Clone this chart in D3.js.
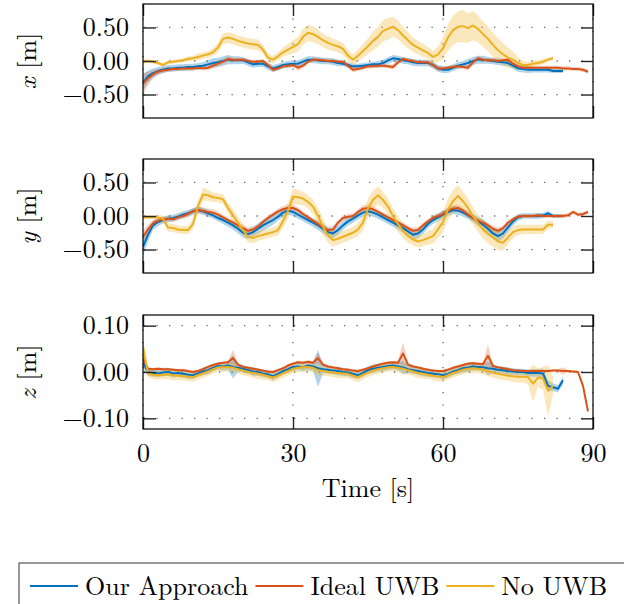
<!DOCTYPE html>
<html>
<head>
<meta charset="utf-8">
<script src="https://cdn.jsdelivr.net/npm/d3@7"></script>
<style>
  body { margin: 0; background: #fff; }
  svg { display: block; }
</style>
</head>
<body>
<div class="chart"></div>
<script>
// time axis, 1 s samples
const timeTicks = [0, 30, 60, 90]
const seriesNames = ['Our Approach', 'Ideal UWB', 'No UWB']

// X position [m]
const xOurs = [-0.32,-0.23,-0.18,-0.15,-0.13,-0.11,-0.11,-0.10,-0.10,-0.09,
 -0.09,-0.08,-0.07,-0.05,-0.03,-0.02,0.00,0.02,0.01,0.01,
 0.01,-0.02,-0.05,-0.04,-0.04,-0.08,-0.11,-0.09,-0.06,-0.05,
 -0.04,-0.04,-0.01,0.02,0.02,0.01,0.00,0.00,-0.01,-0.03,
 -0.04,-0.06,-0.08,-0.08,-0.07,-0.06,-0.05,-0.05,-0.03,0.01,
 0.04,0.03,0.01,0.00,-0.02,-0.03,-0.03,-0.03,-0.06,-0.11,
 -0.13,-0.13,-0.10,-0.07,-0.05,-0.03,0.00,0.02,0.02,0.01,
 0.00,-0.01,-0.02,-0.03,-0.07,-0.11,-0.12,-0.13,-0.13,-0.13,
 -0.13,-0.13,-0.15,-0.15,-0.15]
const xIdeal = [-0.34,-0.26,-0.20,-0.16,-0.14,-0.13,-0.12,-0.12,-0.11,-0.11,
 -0.11,-0.10,-0.11,-0.10,-0.07,-0.04,-0.01,0.03,0.02,0.02,
 0.02,0.00,-0.01,-0.01,0.00,-0.06,-0.13,-0.11,-0.08,-0.07,
 -0.06,-0.10,-0.07,-0.01,0.02,0.02,0.01,0.00,0.00,-0.01,
 -0.01,-0.07,-0.13,-0.12,-0.10,-0.08,-0.08,-0.07,-0.07,-0.08,
 -0.09,-0.02,0.03,0.01,0.00,-0.02,-0.02,-0.02,-0.06,-0.11,
 -0.11,-0.10,-0.09,-0.08,-0.09,-0.10,-0.02,0.04,0.02,0.01,
 0.01,0.00,0.01,0.02,-0.04,-0.08,-0.10,-0.10,-0.10,-0.10,
 -0.10,-0.10,-0.10,-0.10,-0.11,-0.11,-0.12,-0.12,-0.13,-0.16]
const xNoUwb = [-0.01,0.00,-0.01,-0.03,-0.06,-0.02,-0.01,0.00,0.01,0.03,
 0.04,0.06,0.08,0.10,0.13,0.20,0.33,0.35,0.33,0.30,
 0.28,0.26,0.25,0.24,0.17,0.05,0.02,0.07,0.13,0.17,
 0.21,0.25,0.36,0.42,0.40,0.36,0.31,0.27,0.24,0.22,
 0.18,0.08,0.02,0.08,0.15,0.22,0.30,0.36,0.45,0.48,
 0.51,0.46,0.38,0.31,0.24,0.20,0.16,0.12,0.06,0.10,
 0.19,0.35,0.46,0.51,0.52,0.49,0.53,0.48,0.40,0.33,
 0.24,0.16,0.10,0.05,0.02,-0.03,-0.06,-0.06,-0.04,-0.03,
 -0.01,0.02,0.04]
const xOursBand = [0.12,0.09,0.07,0.06,0.05,0.05,0.05,0.05,0.05,0.05,
 0.05,0.05,0.05,0.06,0.07,0.07,0.07,0.07,0.06,0.06,
 0.05,0.05,0.05,0.05,0.05,0.05,0.05,0.05,0.05,0.05,
 0.05,0.05,0.05,0.05,0.05,0.05,0.05,0.05,0.05,0.05,
 0.04,0.04,0.04,0.04,0.04,0.04,0.04,0.05,0.05,0.05,
 0.05,0.05,0.05,0.05,0.05,0.05,0.05,0.05,0.05,0.05,
 0.05,0.05,0.05,0.05,0.05,0.06,0.06,0.06,0.06,0.05,
 0.05,0.05,0.05,0.05,0.05,0.05,0.05,0.05,0.04,0.04,
 0.04,0.04,0.03,0.03,0.03]
const xIdealBand = [0.16,0.10,0.06,0.04,0.04,0.03,0.03,0.03,0.03,0.03,
 0.03,0.03,0.03,0.04,0.04,0.04,0.04,0.04,0.03,0.03,
 0.03,0.03,0.03,0.03,0.03,0.04,0.04,0.03,0.03,0.03,
 0.03,0.04,0.04,0.03,0.03,0.03,0.03,0.03,0.03,0.03,
 0.03,0.04,0.04,0.03,0.03,0.03,0.03,0.03,0.03,0.03,
 0.04,0.04,0.03,0.03,0.03,0.03,0.03,0.03,0.04,0.04,
 0.03,0.03,0.03,0.03,0.03,0.04,0.04,0.03,0.03,0.03,
 0.03,0.03,0.03,0.03,0.04,0.04,0.03,0.03,0.03,0.03,
 0.03,0.03,0.03,0.03,0.03,0.03,0.03,0.03,0.03,0.03]
const xNoUwbBand = [0.03,0.03,0.03,0.03,0.03,0.03,0.03,0.03,0.03,0.04,
 0.04,0.05,0.05,0.05,0.06,0.07,0.08,0.08,0.08,0.08,
 0.08,0.08,0.08,0.08,0.07,0.06,0.06,0.06,0.07,0.08,
 0.10,0.11,0.12,0.12,0.12,0.11,0.10,0.10,0.09,0.09,
 0.09,0.08,0.08,0.09,0.10,0.12,0.14,0.15,0.16,0.16,
 0.15,0.14,0.13,0.12,0.11,0.10,0.10,0.09,0.09,0.12,
 0.16,0.20,0.22,0.23,0.24,0.22,0.22,0.20,0.19,0.18,
 0.18,0.18,0.17,0.15,0.12,0.09,0.06,0.05,0.05,0.04,
 0.04,0.03,0.03]

// Y position [m]
const yOurs = [-0.46,-0.28,-0.14,-0.09,-0.06,-0.04,-0.03,-0.01,0.02,0.04,
 0.07,0.09,0.07,0.04,0.01,-0.03,-0.06,-0.10,-0.14,-0.19,
 -0.25,-0.27,-0.24,-0.19,-0.14,-0.10,-0.06,-0.01,0.05,0.08,
 0.06,0.02,-0.02,-0.06,-0.10,-0.14,-0.19,-0.24,-0.26,-0.21,
 -0.14,-0.08,-0.04,0.01,0.05,0.07,0.05,0.02,-0.02,-0.06,
 -0.10,-0.14,-0.18,-0.23,-0.28,-0.26,-0.20,-0.12,-0.06,-0.02,
 0.02,0.06,0.09,0.08,0.05,0.01,-0.03,-0.08,-0.13,-0.19,
 -0.26,-0.30,-0.26,-0.17,-0.08,-0.02,0.00,0.00,0.00,0.00,
 0.01,0.04,0.00,0.00,0.00]
const yIdeal = [-0.31,-0.20,-0.11,-0.07,-0.05,-0.04,-0.05,-0.02,0.00,0.03,
 0.07,0.09,0.08,0.06,0.05,0.02,-0.02,-0.06,-0.10,-0.14,
 -0.18,-0.22,-0.20,-0.16,-0.09,-0.03,0.02,0.07,0.10,0.12,
 0.12,0.09,0.03,-0.02,-0.07,-0.12,-0.17,-0.21,-0.20,-0.10,
 -0.03,-0.01,0.00,0.06,0.11,0.12,0.10,0.06,0.02,-0.02,
 -0.06,-0.10,-0.14,-0.18,-0.22,-0.21,-0.14,-0.08,-0.03,0.00,
 0.03,0.08,0.11,0.12,0.08,0.02,-0.03,-0.07,-0.10,-0.14,
 -0.19,-0.22,-0.18,-0.10,-0.05,-0.01,0.00,0.00,0.00,0.01,
 0.00,0.00,0.00,0.00,0.00,0.01,0.06,0.02,0.03,0.06]
const yNoUwb = [-0.02,-0.02,-0.02,-0.02,-0.04,-0.17,-0.18,-0.20,-0.21,-0.21,
 -0.12,0.15,0.32,0.31,0.28,0.27,0.25,0.12,0.01,-0.10,
 -0.21,-0.31,-0.33,-0.30,-0.28,-0.26,-0.24,-0.21,-0.08,0.08,
 0.29,0.28,0.26,0.21,0.14,0.00,-0.16,-0.29,-0.36,-0.34,
 -0.31,-0.28,-0.25,-0.20,-0.10,0.12,0.24,0.31,0.24,0.14,
 0.00,-0.12,-0.22,-0.30,-0.35,-0.38,-0.36,-0.33,-0.30,-0.20,
 -0.09,0.10,0.22,0.30,0.22,0.12,0.00,-0.11,-0.20,-0.27,
 -0.32,-0.38,-0.40,-0.32,-0.24,-0.21,-0.20,-0.20,-0.20,-0.20,
 -0.20,-0.13,-0.13]
const yOursBand = [0.14,0.10,0.07,0.06,0.05,0.05,0.05,0.05,0.05,0.05,
 0.05,0.05,0.05,0.05,0.05,0.05,0.06,0.06,0.06,0.07,
 0.07,0.07,0.07,0.08,0.08,0.08,0.07,0.06,0.06,0.06,
 0.06,0.06,0.06,0.06,0.06,0.07,0.07,0.07,0.07,0.07,
 0.07,0.06,0.06,0.06,0.06,0.06,0.06,0.06,0.06,0.06,
 0.06,0.06,0.07,0.07,0.07,0.07,0.07,0.06,0.06,0.06,
 0.06,0.06,0.06,0.06,0.06,0.06,0.06,0.07,0.08,0.08,
 0.08,0.08,0.08,0.07,0.06,0.05,0.04,0.04,0.04,0.04,
 0.04,0.04,0.03,0.03,0.03]
const yIdealBand = [0.10,0.07,0.05,0.04,0.04,0.04,0.04,0.04,0.04,0.04,
 0.04,0.05,0.05,0.05,0.05,0.05,0.04,0.04,0.04,0.04,
 0.05,0.05,0.05,0.04,0.04,0.04,0.04,0.04,0.05,0.05,
 0.05,0.04,0.04,0.04,0.04,0.04,0.04,0.05,0.05,0.04,
 0.04,0.04,0.04,0.04,0.05,0.05,0.05,0.04,0.04,0.04,
 0.04,0.04,0.04,0.04,0.05,0.05,0.04,0.04,0.04,0.04,
 0.04,0.04,0.05,0.05,0.04,0.04,0.04,0.04,0.04,0.04,
 0.05,0.05,0.04,0.04,0.03,0.03,0.03,0.03,0.03,0.03,
 0.03,0.03,0.03,0.03,0.03,0.03,0.03,0.03,0.03,0.03]
const yNoUwbBand = [0.03,0.03,0.03,0.03,0.05,0.06,0.06,0.06,0.06,0.06,
 0.08,0.09,0.10,0.08,0.07,0.07,0.07,0.08,0.09,0.09,
 0.09,0.08,0.08,0.07,0.07,0.07,0.07,0.08,0.10,0.12,
 0.12,0.11,0.10,0.10,0.11,0.12,0.12,0.11,0.10,0.09,
 0.09,0.09,0.09,0.10,0.12,0.14,0.14,0.13,0.12,0.12,
 0.12,0.12,0.11,0.10,0.09,0.09,0.09,0.10,0.11,0.13,
 0.15,0.16,0.17,0.16,0.15,0.14,0.13,0.13,0.14,0.14,
 0.14,0.13,0.12,0.10,0.09,0.08,0.07,0.07,0.07,0.07,
 0.07,0.06,0.05]

// Z position [m]
const zOurs = [0.020,0.000,-0.002,-0.003,-0.001,0.000,-0.003,-0.002,-0.004,-0.006,
 -0.007,-0.003,0.001,0.004,0.009,0.013,0.012,0.014,0.011,0.009,
 0.007,0.004,0.001,0.000,-0.003,-0.005,-0.009,-0.004,0.002,0.006,
 0.011,0.012,0.010,0.014,0.012,0.008,0.006,0.005,0.003,0.002,
 0.000,-0.001,-0.004,-0.007,-0.002,0.004,0.007,0.009,0.011,0.013,
 0.014,0.012,0.010,0.006,0.004,0.002,0.000,-0.002,-0.004,-0.005,
 -0.007,-0.004,0.001,0.004,0.008,0.010,0.012,0.011,0.010,0.008,
 0.007,0.005,0.004,0.002,0.001,0.000,0.000,-0.002,-0.002,-0.002,
 -0.003,-0.030,-0.033,-0.036,-0.018]
const zIdeal = [0.030,0.007,0.006,0.007,0.006,0.006,0.005,0.004,0.004,0.002,
 0.000,0.002,0.006,0.011,0.015,0.018,0.020,0.021,0.030,0.016,
 0.011,0.009,0.007,0.005,0.003,0.001,0.000,0.004,0.008,0.014,
 0.018,0.021,0.020,0.022,0.020,0.030,0.016,0.012,0.010,0.008,
 0.006,0.005,0.003,0.002,0.005,0.008,0.012,0.015,0.018,0.020,
 0.021,0.020,0.040,0.016,0.012,0.010,0.007,0.005,0.003,0.002,
 0.002,0.005,0.009,0.012,0.015,0.018,0.019,0.018,0.017,0.035,
 0.013,0.010,0.008,0.006,0.004,0.003,0.002,0.002,0.002,0.002,
 0.002,0.002,0.003,0.003,0.002,0.002,0.001,0.000,-0.030,-0.085]
const zNoUwb = [0.055,-0.003,-0.006,-0.007,-0.006,-0.005,-0.007,-0.008,-0.009,-0.010,
 -0.011,-0.007,-0.003,0.001,0.006,0.010,0.010,0.011,0.009,0.006,
 0.003,0.000,-0.002,-0.004,-0.006,-0.009,-0.012,-0.008,-0.003,0.002,
 0.007,0.009,0.010,0.011,0.009,0.004,0.002,0.000,-0.001,-0.002,
 -0.003,-0.004,-0.008,-0.011,-0.006,-0.002,0.003,0.006,0.008,0.010,
 0.011,0.009,0.007,0.004,0.001,-0.002,-0.004,-0.006,-0.008,-0.009,
 -0.011,-0.007,-0.002,0.001,0.005,0.007,0.008,0.007,0.005,0.002,
 -0.002,-0.004,-0.006,-0.008,-0.009,-0.010,-0.010,-0.011,-0.025,-0.012,
 -0.014,-0.040,-0.030]
const zOursBand = [0.012,0.008,0.008,0.008,0.008,0.008,0.009,0.008,0.008,0.009,
 0.008,0.008,0.008,0.009,0.008,0.008,0.009,0.010,0.025,0.009,
 0.008,0.008,0.009,0.008,0.008,0.008,0.009,0.008,0.008,0.008,
 0.009,0.008,0.008,0.010,0.009,0.040,0.009,0.008,0.008,0.009,
 0.008,0.008,0.009,0.008,0.008,0.008,0.009,0.008,0.009,0.009,
 0.008,0.008,0.015,0.008,0.008,0.008,0.009,0.008,0.008,0.008,
 0.009,0.008,0.008,0.008,0.009,0.010,0.009,0.008,0.008,0.015,
 0.008,0.008,0.008,0.008,0.007,0.007,0.007,0.007,0.008,0.008,
 0.010,0.012,0.008,0.008,0.008]
const zIdealBand = [0.008,0.004,0.003,0.003,0.003,0.003,0.003,0.003,0.003,0.003,
 0.003,0.003,0.003,0.003,0.003,0.003,0.003,0.004,0.018,0.004,
 0.003,0.003,0.003,0.003,0.003,0.003,0.003,0.003,0.003,0.003,
 0.003,0.003,0.003,0.003,0.004,0.012,0.004,0.003,0.003,0.003,
 0.003,0.003,0.003,0.003,0.003,0.003,0.003,0.003,0.003,0.003,
 0.003,0.004,0.025,0.004,0.003,0.003,0.003,0.003,0.003,0.003,
 0.003,0.003,0.003,0.003,0.003,0.003,0.003,0.003,0.004,0.025,
 0.004,0.003,0.003,0.003,0.003,0.003,0.003,0.003,0.003,0.003,
 0.003,0.003,0.003,0.003,0.008,0.003,0.003,0.003,0.004,0.004]
const zNoUwbBand = [0.015,0.008,0.009,0.010,0.009,0.010,0.011,0.010,0.009,0.010,
 0.010,0.009,0.010,0.009,0.010,0.009,0.010,0.009,0.010,0.009,
 0.010,0.009,0.010,0.011,0.010,0.009,0.010,0.009,0.010,0.009,
 0.010,0.009,0.010,0.009,0.010,0.012,0.010,0.009,0.010,0.011,
 0.010,0.009,0.010,0.011,0.010,0.009,0.010,0.009,0.010,0.009,
 0.010,0.009,0.010,0.009,0.010,0.011,0.010,0.009,0.010,0.011,
 0.010,0.009,0.010,0.009,0.010,0.009,0.010,0.009,0.010,0.011,
 0.010,0.011,0.012,0.011,0.012,0.013,0.012,0.015,0.040,0.020,
 0.025,0.055,0.020]

const colors = ['#0072BD', '#D95319', '#EDB120']
const bandOpacity = [0.3, 0.25, 0.3]

const width = 624
const height = 604
const plotLeft = 143
const plotRight = 593
const fontSize = 26
const serif = '"Latin Modern Roman", "Liberation Serif", serif'

const svg = d3.select('.chart')
    .append('svg')
    .attr('width', width)
    .attr('height', height)

const x = d3.scaleLinear().domain([0, 90]).range([plotLeft, plotRight])

const panels = [
    { axis: 'x', top: 4, bottom: 118, lim: 0.85, ticks: [-0.5, 0, 0.5],
      values: [xOurs, xIdeal, xNoUwb], bands: [xOursBand, xIdealBand, xNoUwbBand] },
    { axis: 'y', top: 159, bottom: 273, lim: 0.85, ticks: [-0.5, 0, 0.5],
      values: [yOurs, yIdeal, yNoUwb], bands: [yOursBand, yIdealBand, yNoUwbBand] },
    { axis: 'z', top: 315, bottom: 429, lim: 0.123, ticks: [-0.1, 0, 0.1],
      values: [zOurs, zIdeal, zNoUwb], bands: [zOursBand, zIdealBand, zNoUwbBand] }
]

panels.forEach((p, pi) => {
    const y = d3.scaleLinear().domain([-p.lim, p.lim]).range([p.bottom, p.top])
    const g = svg.append('g')

    g.append('clipPath').attr('id', 'clip' + pi)
        .append('rect')
        .attr('x', plotLeft).attr('y', p.top)
        .attr('width', plotRight - plotLeft).attr('height', p.bottom - p.top)

    // dotted grid
    g.selectAll('.hgrid')
        .data(p.ticks)
        .enter()
        .append('line')
        .attr('x1', plotLeft).attr('x2', plotRight)
        .attr('y1', d => y(d)).attr('y2', d => y(d))
        .attr('stroke', '#666').attr('stroke-width', 1.3)
        .attr('stroke-dasharray', '1.3,11.2').attr('stroke-dashoffset', -1)
    g.selectAll('.vgrid')
        .data(timeTicks)
        .enter()
        .append('line')
        .attr('x1', d => x(d)).attr('x2', d => x(d))
        .attr('y1', p.top).attr('y2', p.bottom)
        .attr('stroke', '#666').attr('stroke-width', 1.3)
        .attr('stroke-dasharray', '1.3,11.2').attr('stroke-dashoffset', -2)

    const plot = g.append('g').attr('clip-path', 'url(#clip' + pi + ')')

    p.values.forEach((vals, si) => {
        const area = d3.area()
            .x((d, i) => x(i))
            .y0((d, i) => y(d - p.bands[si][i]))
            .y1((d, i) => y(d + p.bands[si][i]))
        plot.append('path')
            .datum(vals)
            .attr('d', area)
            .attr('fill', colors[si])
            .attr('fill-opacity', bandOpacity[si])
            .attr('stroke', 'none')
    })
    p.values.forEach((vals, si) => {
        const line = d3.line()
            .x((d, i) => x(i))
            .y(d => y(d))
        plot.append('path')
            .datum(vals)
            .attr('d', line)
            .attr('fill', 'none')
            .attr('stroke', colors[si])
            .attr('stroke-width', 2)
            .attr('stroke-linejoin', 'round')
    })

    // axes with inward ticks
    const left = g.append('g')
        .attr('transform', `translate(${plotLeft},0)`)
        .call(d3.axisLeft(y).tickValues(p.ticks).tickSize(-13).tickPadding(14).tickFormat(d3.format('.2f')))
    const rightAx = g.append('g')
        .attr('transform', `translate(${plotRight},0)`)
        .call(d3.axisRight(y).tickValues(p.ticks).tickSize(-12).tickFormat(''))
    const topAx = g.append('g')
        .attr('transform', `translate(0,${p.top})`)
        .call(d3.axisTop(x).tickValues(timeTicks).tickSize(-12).tickFormat(''))
    const bottomAx = g.append('g')
        .attr('transform', `translate(0,${p.bottom})`)
        .call(d3.axisBottom(x).tickValues(timeTicks).tickSize(-12).tickPadding(15)
            .tickFormat(pi === 2 ? d3.format('d') : ''))

    ;[left, rightAx, topAx, bottomAx].forEach(a => {
        a.select('.domain').remove()
        a.selectAll('.tick line').attr('stroke', '#262626').attr('stroke-width', 1.4)
        a.selectAll('.tick text')
            .attr('fill', '#000')
            .attr('font-size', fontSize)
            .style('font-family', serif)
    })

    g.append('rect')
        .attr('x', plotLeft).attr('y', p.top)
        .attr('width', plotRight - plotLeft).attr('height', p.bottom - p.top)
        .attr('fill', 'none')
        .attr('stroke', '#000')
        .attr('stroke-width', 1.2)

    const label = g.append('text')
        .attr('transform', `translate(36,${(p.top + p.bottom) / 2}) rotate(-90)`)
        .attr('text-anchor', 'middle')
        .attr('font-size', fontSize)
        .style('font-family', serif)
    label.append('tspan').attr('font-style', 'italic').text(p.axis)
    label.append('tspan').text(' [m]')
})

svg.append('text')
    .attr('x', x(45))
    .attr('y', 497)
    .attr('text-anchor', 'middle')
    .attr('font-size', fontSize)
    .style('font-family', serif)
    .text('Time [s]')

// legend
const legend = svg.append('g')
legend.append('rect')
    .attr('x', 19).attr('y', 563)
    .attr('width', 700).attr('height', 100)
    .attr('fill', '#fff')
    .attr('stroke', '#555')
    .attr('stroke-width', 1.2)

let lx = 30
seriesNames.forEach((name, i) => {
    legend.append('line')
        .attr('x1', lx).attr('x2', lx + 48)
        .attr('y1', 586).attr('y2', 586)
        .attr('stroke', colors[i])
        .attr('stroke-width', 2)
    const t = legend.append('text')
        .attr('x', lx + 55)
        .attr('y', 595)
        .attr('font-size', fontSize)
        .style('font-family', serif)
        .text(name)
    lx = lx + 55 + t.node().getComputedTextLength() + 7
})
</script>
</body>
</html>
